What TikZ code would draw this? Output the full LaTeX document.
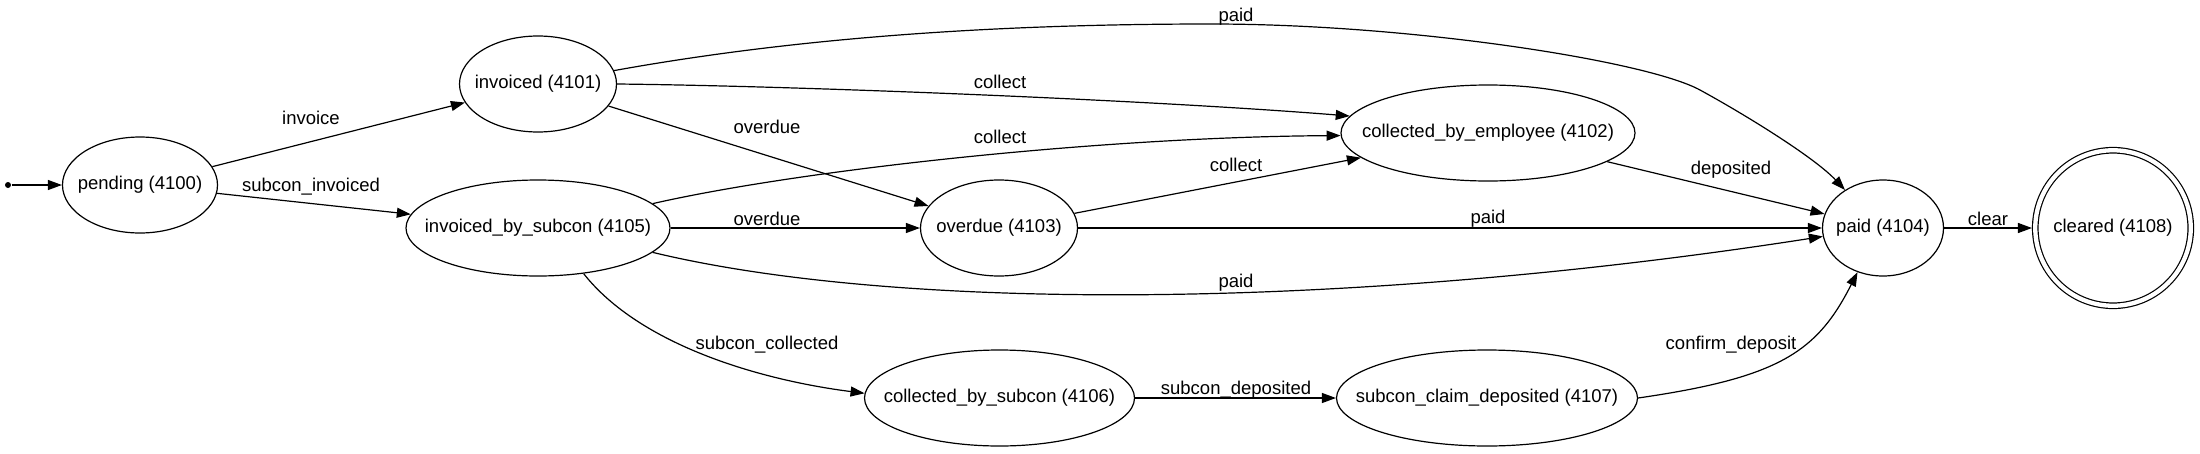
\documentclass[tikz,border=0pt]{standalone}
\usepackage{fontspec}
\setmainfont{Liberation Sans}
\usetikzlibrary{arrows.meta,shapes.geometric}
\newcommand\nodetext[1]{\makebox[0pt]{#1}}

\begin{document}
\begin{tikzpicture}[x=1pt,y=1pt,line width=1.2pt,
  font=\fontsize{18.5}{22}\selectfont,
  state/.style={draw,ellipse,inner sep=0pt,minimum height=96pt},
  final/.style={draw,circle,double,double distance=4.3pt,inner sep=0pt,minimum size=155.5pt,outer sep=3.3pt},
  tr/.style={-{Triangle[length=14pt,width=10pt]}},
  lbl/.style={inner sep=0pt}]
\useasboundingbox (0,0) rectangle (2200,-453);

% states
\node[circle,fill,inner sep=0pt,minimum size=6pt] (start) at (8,-185) {};
\node[state,minimum width=155pt] (pending) at (140,-185) {\nodetext{pending (4100)}};
\node[state,minimum width=157pt] (invoiced) at (538,-84) {\nodetext{invoiced (4101)}};
\node[state,minimum width=264pt] (ibs) at (538,-228) {\nodetext{invoiced\_by\_subcon (4105)}};
\node[state,minimum width=157pt] (overdue) at (999,-228) {\nodetext{overdue (4103)}};
\node[state,minimum width=294pt] (cbe) at (1488,-133) {\nodetext{collected\_by\_employee (4102)}};
\node[state,minimum width=121pt] (paid) at (1883,-228) {\nodetext{paid (4104)}};
\node[final] (cleared) at (2113,-228) {cleared (4108)};
\node[state,minimum width=270pt] (cbs) at (999.5,-398) {\nodetext{collected\_by\_subcon (4106)}};
\node[state,minimum width=301pt] (scd) at (1487,-398) {\nodetext{subcon\_claim\_deposited (4107)}};

% transitions
\draw[tr] (start) -- (pending);
\draw[tr] (pending) -- (invoiced) node[lbl] at (311,-118) {invoice};
\draw[tr] (pending) -- (ibs) node[lbl] at (311,-187) {subcon\_invoiced};
\draw[tr] (invoiced.10) .. controls (800,-37) and (1000,-24) .. (1211,-24)
  .. controls (1411,-24) and (1647,-61) .. (1700,-90)
  .. controls (1744,-114) and (1814,-157) .. (paid.135) node[lbl] at (1236,-17) {paid};
\draw[tr] (invoiced.east) .. controls (800,-86) and (1150,-100) .. (cbe.173) node[lbl] at (1000,-82) {collect};
\draw[tr] (invoiced) -- (overdue) node[lbl] at (767,-127) {overdue};
\draw[tr] (ibs.12) .. controls (800,-170) and (1100,-137) .. (cbe.181) node[lbl] at (1000,-137) {collect};
\draw[tr] (overdue) -- (cbe) node[lbl] at (1236,-165) {collect};
\draw[tr] (ibs) -- (overdue) node[lbl] at (767,-219) {overdue};
\draw[tr] (overdue) -- (paid) node[lbl] at (1488,-219) {paid};
\draw[tr] (ibs.-12) .. controls (900,-312) and (1350,-310) .. (paid.188) node[lbl] at (1236,-283) {paid};
\draw[tr] (ibs.-45) .. controls (640,-345) and (760,-380) .. (cbs.178) node[lbl] at (767,-345) {subcon\_collected};
\draw[tr] (cbs) -- (scd) node[lbl] at (1236,-390) {subcon\_deposited};
\draw[tr] (cbe) -- (paid) node[lbl] at (1731,-170) {deposited};
\draw[tr] (scd.east) .. controls (1779,-377.6) and (1817,-352.2) .. (paid.240) node[lbl] at (1731,-345) {confirm\_deposit};
\draw[tr] (paid) -- (cleared) node[lbl] at (1988,-219) {clear};
\end{tikzpicture}
\end{document}
